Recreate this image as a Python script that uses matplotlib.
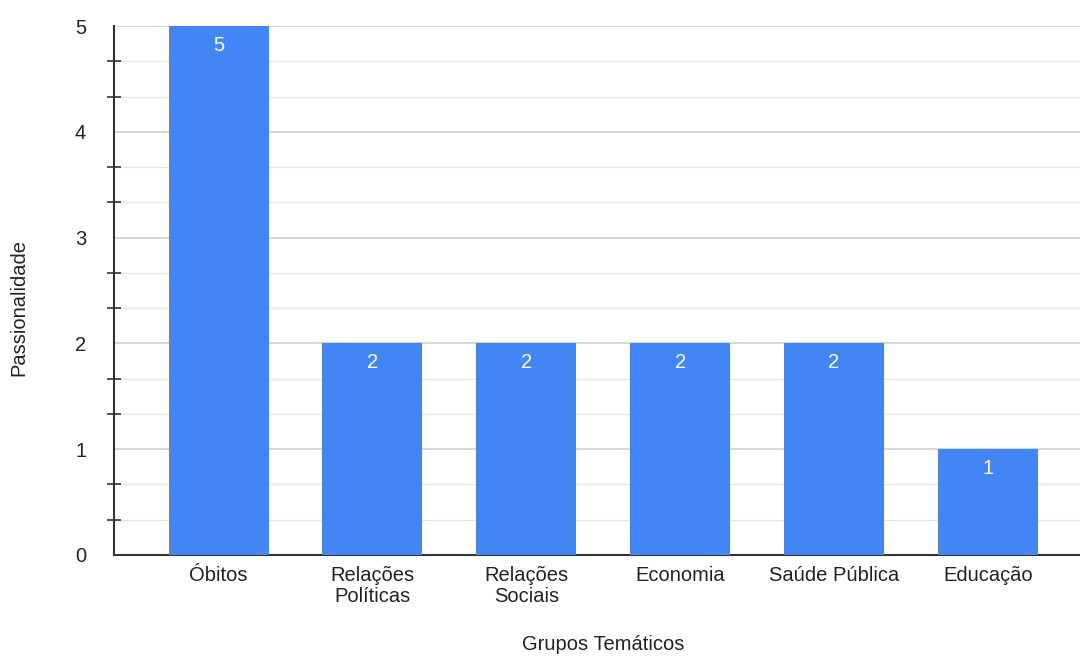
import matplotlib
matplotlib.use("Agg")
import matplotlib.pyplot as plt
from matplotlib.ticker import MultipleLocator

plt.rcParams['font.family'] = ['Liberation Sans', 'DejaVu Sans']

categories = ["Óbitos", "Relações\nPolíticas", "Relações\nSociais", "Economia", "Saúde Pública", "Educação"]
values = [5, 2, 2, 2, 2, 1]

bar_color = "#4285F4"
text_color = "#222222"
fs = 14.5

fig = plt.figure(figsize=(10.8, 6.57), dpi=100)
ax = fig.add_axes([114 / 1080, 1 - 555 / 657, 1 - 114 / 1080, (555 - 26) / 657])

x = list(range(len(categories)))
bars = ax.bar(x, values, width=0.65, color=bar_color, zorder=3)

for xi, v in zip(x, values):
    ax.text(xi, v - 0.18, str(v), ha="center", va="center", color="white",
            fontsize=fs, zorder=4)

ax.set_xlim(-0.68, 5.6)
ax.set_ylim(0, 5)
ax.yaxis.set_major_locator(MultipleLocator(1))
ax.yaxis.set_minor_locator(MultipleLocator(1 / 3))

ax.grid(axis="y", which="major", color="#cccccc", linewidth=1.1, zorder=0)
ax.grid(axis="y", which="minor", color="#e6e6e6", linewidth=1.0, zorder=0)

ax.set_xticks(x)
ax.set_xticklabels(categories, fontsize=fs, color=text_color, linespacing=1.12)
ax.tick_params(axis="x", length=0, pad=8)
ax.tick_params(axis="y", which="major", length=0, pad=20, labelsize=fs, labelcolor=text_color)
ax.tick_params(axis="y", which="minor", length=10, width=1.2, direction="inout", color="#333333")

for side in ("top", "right"):
    ax.spines[side].set_visible(False)
for side in ("left", "bottom"):
    ax.spines[side].set_color("#333333")
    ax.spines[side].set_linewidth(1.5)

ax.set_xlabel("Grupos Temáticos", fontsize=fs, color=text_color)
ax.set_ylabel("Passionalidade", fontsize=fs, color=text_color)
ax.xaxis.set_label_coords((603 - 114) / (1080 - 114), -(645 - 555) / 529)
ax.yaxis.set_label_coords(-(114 - 19) / (1080 - 114), (555 - 308) / 529)
ax.xaxis.label.set_va("center")
ax.yaxis.label.set_va("center")

fig.savefig("out.png", dpi=100)
